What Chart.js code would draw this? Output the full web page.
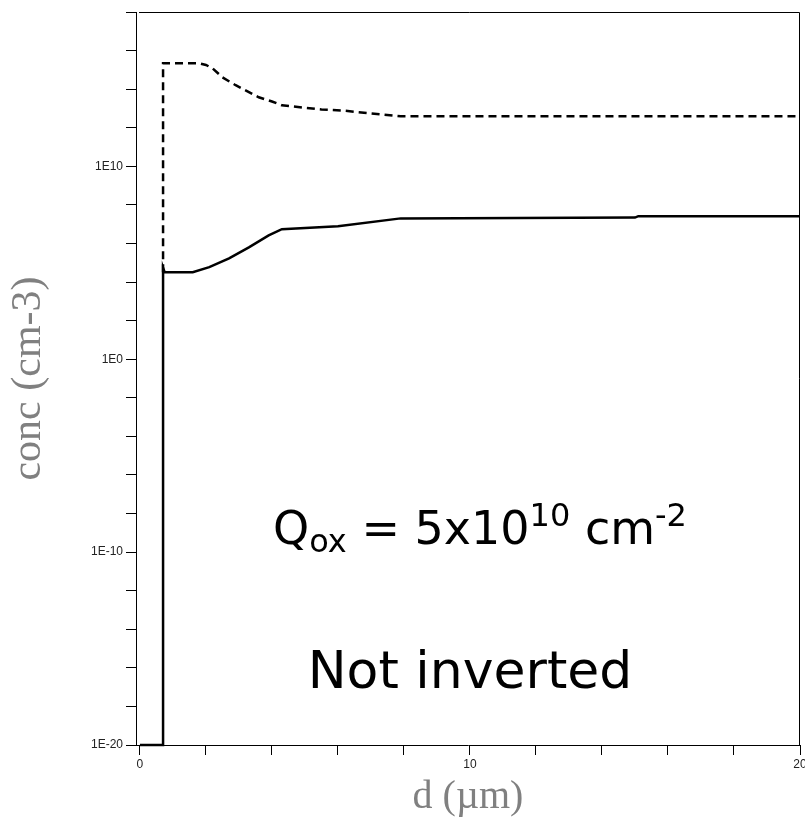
<!DOCTYPE html>
<html>
<head>
<meta charset="utf-8">
<script src="https://cdn.jsdelivr.net/npm/chart.js@4/dist/chart.umd.min.js"></script>
<style>
  body { margin: 0; background: #fff; }
  canvas { display: block; }
</style>
</head>
<body>
<canvas id="chart" width="805" height="827"></canvas>
<script>
// solid curve (lower), d in um, conc in cm-3
let solidX = [0, 0.7, 0.7, 0.75, 1.6, 2.1, 2.7, 3.3, 3.9, 4.3, 6.0, 7.9, 15.0, 15.1, 20];
let solidY = [1e-20, 1e-20, 5.6e4, 3.2e4, 3.2e4, 5.9e4, 1.7e5, 6.3e5, 2.6e6, 5.5e6, 7.8e6, 2.0e7, 2.2e7, 2.6e7, 2.6e7];

// dashed curve (upper)
let dashX = [0.7, 0.7, 1.8, 2.0, 2.2, 2.5, 2.9, 3.6, 4.0, 4.3, 5.5, 6.1, 7.9, 20];
let dashY = [3.2e4, 2.2e15, 2.2e15, 1.8e15, 1.2e15, 4.1e14, 1.6e14, 3.8e13, 2.3e13, 1.45e13, 8.9e12, 7.9e12, 3.9e12, 3.9e12];

let xTicks = [0, 2, 4, 6, 8, 10, 12, 14, 16, 18, 20];
let xTickLabels = ["0", "", "", "", "", "10", "", "", "", "", "20"];

let yTicks = [1e-20, 1e-18, 1e-16, 1e-14, 1e-12, 1e-10, 1e-8, 1e-6, 1e-4, 1e-2, 1e0,
              1e2, 1e4, 1e6, 1e8, 1e10, 1e12, 1e14, 1e16, 1e18];
let yTickLabels = ["1E-20", "", "", "", "", "1E-10", "", "", "", "", "1E0",
                   "", "", "", "", "1E10", "", "", "", ""];

function toPoints(xs, ys) {
    return xs.map((x, i) => ({ x: x, y: ys[i] }));
}

const tickFont = { family: "'Liberation Sans', sans-serif", size: 12 };

const notes = {
    id: "notes",
    afterDraw(chart) {
        let ctx = chart.ctx;
        let a = chart.chartArea;
        ctx.save();

        // frame top + right
        ctx.strokeStyle = "#000";
        ctx.lineWidth = 1;
        ctx.beginPath();
        ctx.moveTo(a.left + 3, a.top + 0.5);
        ctx.lineTo(a.right - 0.5, a.top + 0.5);
        ctx.lineTo(a.right - 0.5, a.bottom);
        ctx.stroke();

        ctx.fillStyle = "#000";
        ctx.textBaseline = "alphabetic";

        // Q_ox = 5x10^10 cm^-2
        let parts = [
            ["Q", 46, 0], ["ox", 32, 8], [" = 5x10", 46, 0],
            ["10", 32, -18], [" cm", 46, 0], ["-2", 32, -18]
        ];
        let total = 0;
        parts.forEach(p => {
            ctx.font = p[1] + "px 'DejaVu Sans'";
            total += ctx.measureText(p[0]).width;
        });
        let x = 480 - total / 2;
        parts.forEach(p => {
            ctx.font = p[1] + "px 'DejaVu Sans'";
            ctx.fillText(p[0], x, 544 + p[2]);
            x += ctx.measureText(p[0]).width;
        });

        ctx.font = "52px 'DejaVu Sans'";
        ctx.textAlign = "center";
        ctx.fillText("Not inverted", 470, 688);
        ctx.restore();
    }
};

new Chart(document.getElementById("chart"), {
    type: "scatter",
    data: {
        datasets: [
            {
                label: "solid",
                data: toPoints(solidX, solidY),
                showLine: true,
                borderColor: "#000",
                borderWidth: 2.5,
                pointRadius: 0,
                tension: 0,
                clip: 6
            },
            {
                label: "dashed",
                data: toPoints(dashX, dashY),
                showLine: true,
                borderColor: "#000",
                borderWidth: 2.5,
                borderDash: [8, 5],
                pointRadius: 0,
                tension: 0,
                clip: 6
            }
        ]
    },
    options: {
        responsive: false,
        animation: false,
        layout: { padding: { top: 12, right: 5, bottom: 0, left: 0 } },
        plugins: {
            legend: { display: false },
            tooltip: { enabled: false }
        },
        scales: {
            x: {
                type: "linear",
                min: -0.12,
                max: 20,
                afterBuildTicks: s => { s.ticks = xTicks.map(v => ({ value: v })); },
                afterFit: s => { s.height = 82; s.paddingLeft = 0; s.paddingRight = 0; },
                ticks: {
                    autoSkip: false,
                    maxRotation: 0,
                    padding: 2,
                    color: "#222",
                    font: tickFont,
                    callback: (v, i) => xTickLabels[i]
                },
                grid: { drawOnChartArea: false, tickLength: 10, color: "#000" },
                border: { display: true, color: "#000", width: 1 },
                title: {
                    display: true,
                    text: "d (\u00b5m)",
                    color: "#808080",
                    font: { family: "'Liberation Serif', serif", size: 40 },
                    padding: { top: 0, bottom: 6 }
                }
            },
            y: {
                type: "logarithmic",
                min: 1e-20,
                max: 1e18,
                afterBuildTicks: s => { s.ticks = yTicks.map(v => ({ value: v })); },
                afterFit: s => { s.width = 136; s.paddingTop = 0; s.paddingBottom = 0; },
                ticks: {
                    autoSkip: false,
                    padding: 3,
                    color: "#222",
                    font: tickFont,
                    callback: (v, i) => yTickLabels[i]
                },
                grid: { drawOnChartArea: false, tickLength: 10, color: "#000" },
                border: { display: true, color: "#000", width: 1 },
                title: {
                    display: true,
                    text: "conc (cm-3)",
                    color: "#808080",
                    font: { family: "'Liberation Serif', serif", size: 42 },
                    padding: { top: 4, bottom: 0 }
                }
            }
        }
    },
    plugins: [notes]
});
</script>
</body>
</html>
